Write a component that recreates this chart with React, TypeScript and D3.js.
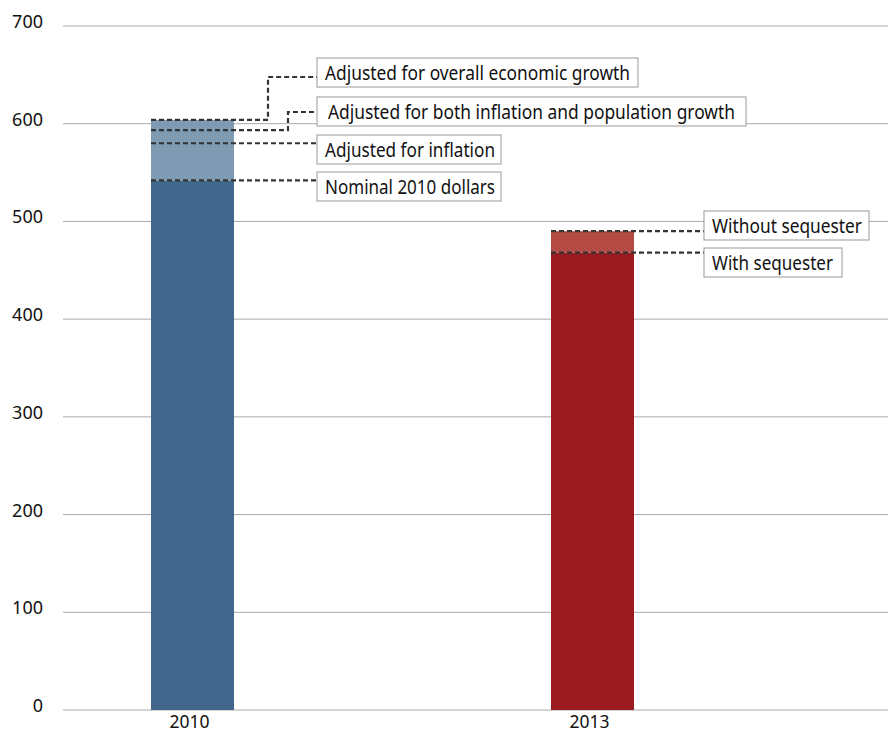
import React from "react";
import * as d3 from "d3";

const categories = ["2010", "2013"];
const baseValues = [542, 468];
const topValues = [604, 490];
const yTicks = [0, 100, 200, 300, 400, 500, 600, 700];

const labels2010 = [
  "Adjusted for overall economic growth",
  " Adjusted for both inflation and population growth",
  "Adjusted for inflation",
  "Nominal 2010 dollars",
];
const values2010 = [604, 593.5, 580, 542];
const labels2013 = ["Without sequester", "With sequester"];
const values2013 = [490, 468];

// layout for annotation boxes (positions only)
const layout2010 = [
  { boxY: 58, boxW: 321, textW: 305, elbowX: 268, entryY: 77 },
  { boxY: 97, boxW: 429, textW: 407, elbowX: 288, entryY: 112 },
  { boxY: 135, boxW: 184, textW: 170, elbowX: null, entryY: null },
  { boxY: 172, boxW: 184, textW: 170, elbowX: null, entryY: null },
];
const layout2013 = [
  { boxY: 211, boxW: 165, textW: 150, elbowX: null, entryY: null },
  { boxY: 248, boxW: 138, textW: 121, elbowX: null, entryY: null },
];

const W = 888;
const H = 734;
const darkColors = ["#41678c", "#9a1c20"];
const lightColors = ["#7f9bb4", "#b34b43"];

export default function App() {
  const y = d3.scaleLinear().domain([0, 700]).range([710, 26]);
  const x = d3.scalePoint<string>().domain(categories).range([192.5, 592.5]);
  const barW = 83;
  const font = "'Noto Sans', sans-serif";

  const renderAnn = (
    labels: string[],
    values: number[],
    layout: any[],
    barLeft: number,
    boxX: number,
    key: string
  ) =>
    labels.map((lab, i) => {
      const L = layout[i];
      const vy = y(values[i]);
      let path: string;
      if (L.elbowX != null) {
        path = `M${barLeft},${vy}H${L.elbowX}V${L.entryY}H${boxX}`;
      } else {
        path = `M${barLeft},${vy}H${boxX}`;
      }
      const leading = lab.startsWith(" ");
      return (
        <g key={key + i}>
          <path d={path} fill="none" stroke="#333" strokeWidth={2.2} strokeDasharray="5,3" />
          <rect x={boxX} y={L.boxY} width={L.boxW} height={29} fill="#fff" stroke="#999" strokeWidth={1} />
          <text
            x={boxX + (leading ? 11 : 8)}
            y={L.boxY + 22}
            fontFamily={font}
            fontSize={20}
            fill="#111"
            textLength={L.textW}
            lengthAdjust="spacingAndGlyphs"
          >
            {lab.trim()}
          </text>
        </g>
      );
    });

  return (
    <svg width={W} height={H} style={{ position: "absolute", left: 0, top: 0 }}>
      <rect x={0} y={0} width={W} height={H} fill="#fff" />
      {yTicks.map((t) => (
        <g key={t}>
          <line x1={63} x2={888} y1={y(t)} y2={y(t)} stroke="#aaa" strokeWidth={1} />
          <text x={43} y={y(t) + 2} textAnchor="end" fontFamily={font} fontSize={18} fill="#111">
            {t}
          </text>
        </g>
      ))}
      {categories.map((c, i) => {
        const cx = x(c)!;
        return (
          <g key={c}>
            <rect x={cx - barW / 2} y={y(baseValues[i])} width={barW} height={y(0) - y(baseValues[i])} fill={darkColors[i]} />
            <rect x={cx - barW / 2} y={y(topValues[i])} width={barW} height={y(baseValues[i]) - y(topValues[i])} fill={lightColors[i]} />
            <text x={cx - 3} y={728} textAnchor="middle" fontFamily={font} fontSize={17.5} fill="#111">
              {c}
            </text>
          </g>
        );
      })}
      {renderAnn(labels2010, values2010, layout2010, x("2010")! - barW / 2, 317, "a")}
      {renderAnn(labels2013, values2013, layout2013, x("2013")! - barW / 2, 704, "b")}
    </svg>
  );
}
